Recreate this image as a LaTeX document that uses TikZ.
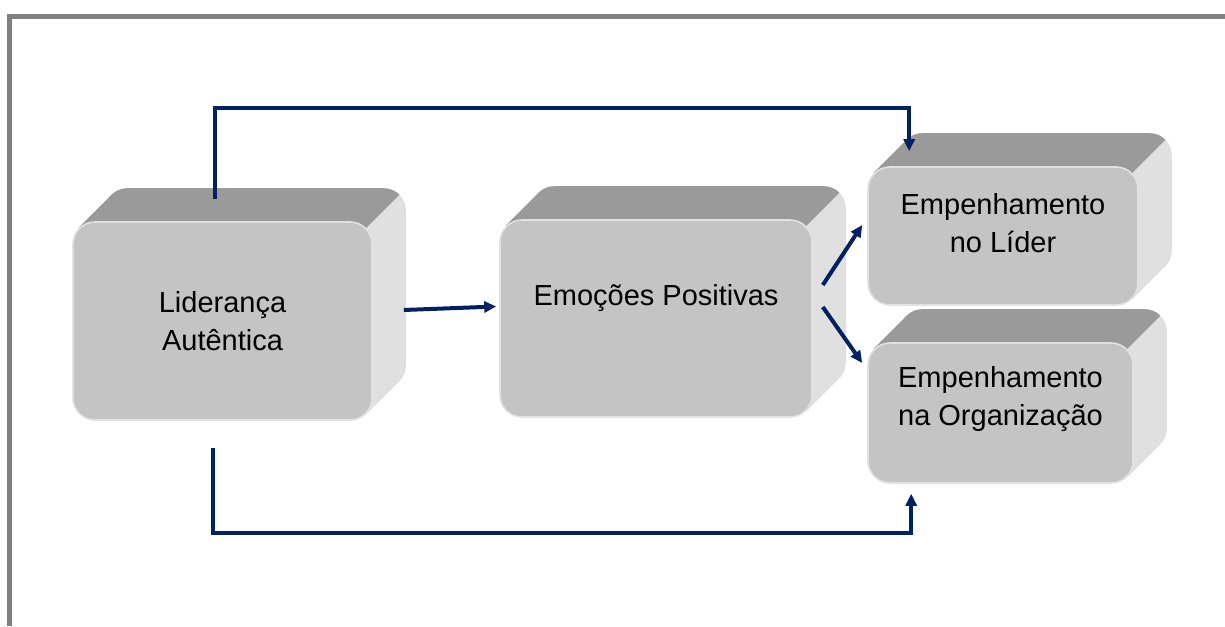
\documentclass[tikz,border=0pt]{standalone}
\usepackage{fontspec}
\setmainfont{Liberation Sans}
\usepackage{tikz}
\usetikzlibrary{positioning, arrows.meta, backgrounds}
\definecolor{connblue}{RGB}{0,32,96}
\definecolor{facegray}{RGB}{196,196,196}
\definecolor{topgray}{RGB}{154,154,154}
\definecolor{sidegray}{RGB}{224,224,224}
\definecolor{framegray}{RGB}{128,128,128}

\tikzset{
  frontface/.style={fill=facegray, draw=facegray!50!white, line width=0.8pt,
                    rounded corners=11pt, align=center, inner sep=0pt,
                    font=\fontsize{14.5}{19}\selectfont},
  conn/.style={draw=connblue, line width=2pt, -{Triangle[length=6pt,width=5.5pt]}},
}

% depth of a box, drawn behind its front face
\newcommand{\extrude}[1]{%
  \fill[sidegray, rounded corners=11pt] ([shift={(33,-33)}]#1.south west) rectangle ([shift={(33,-33)}]#1.north east);
  \fill[sidegray] ([shift={(6.5,6.5)}]#1.north west)
       -- ([shift={(39.5,-26.5)}]#1.north west) -- ([shift={(26.5,-39.5)}]#1.south east)
       -- ([shift={(-6.5,-6.5)}]#1.south east) -- cycle;
  \begin{scope}
    \clip ([shift={(-50,60)}]#1.north west) -- ([shift={(-50,-100)}]#1.north west)
          -- ([shift={(100,-100)}]#1.north east) -- (#1.north east)
          -- ([shift={(-40,40)}]#1.north east) -- cycle;
    \fill[topgray, rounded corners=11pt] ([shift={(33,-33)}]#1.south west) rectangle ([shift={(33,-33)}]#1.north east);
    \fill[topgray] ([shift={(6.5,6.5)}]#1.north west) -- ([shift={(39.5,-26.5)}]#1.north west)
         -- ([shift={(26.5,-39.5)}]#1.south east) -- ([shift={(-6.5,-6.5)}]#1.south east) -- cycle;
  \end{scope}
}

\begin{document}
\begin{tikzpicture}[x=0.5pt, y=-0.5pt]
  \useasboundingbox (0,0) rectangle (1225,626);
  % frame
  \draw[framegray, line width=2.5pt] (9.5,626) -- (9.5,17) -- (1225,17);

  % front faces
  \node[frontface, minimum width=149.5pt, minimum height=99pt] (lid) at (222.5,321)
       {Liderança\\Autêntica};
  \node[frontface, minimum width=156pt, minimum height=98.5pt, text depth=23.5pt] (emo) at (656,318.5)
       {Emoções Positivas};
  \node[frontface, minimum width=135pt, minimum height=69pt, text depth=13.5pt] (eld) at (1003,236)
       {Empenhamento\\no Líder};
  \node[frontface, minimum width=132.5pt, minimum height=70pt, text depth=17pt] (eorg) at (1000.5,413)
       {Empenhamento\\na Organização};

  % extrusion of the boxes
  \begin{scope}[on background layer]
    \foreach \n in {lid,emo,eld,eorg}{\extrude{\n}}
  \end{scope}

  % connectors
  \coordinate (toprail) at (0,108);
  \coordinate (botrail) at (0,533);
  \coordinate (lidtop) at ([shift={(-7.5,-22)}]lid.north);
  \coordinate (lidbot) at ([shift={(-9.5,27)}]lid.south);
  \coordinate (eldin) at ([shift={(42,-15)}]eld.north west);
  \coordinate (eorgin) at ([shift={(44,10)}]eorg.south west);

  \draw[conn] (lidtop) -- (lidtop |- toprail) -| (eldin);
  \draw[conn] (lidbot) -- (lidbot |- botrail) -| (eorgin);
  \draw[conn] ([shift={(31,-11)}]lid.east) -- ([shift={(-3,-12)}]emo.west);
  \draw[conn] ([shift={(10,-33.5)}]emo.east) -- ([shift={(-5,-11)}]eld.west);
  \draw[conn] ([shift={(10,-11.5)}]emo.east) -- ([shift={(-5,-50)}]eorg.west);
\end{tikzpicture}
\end{document}
